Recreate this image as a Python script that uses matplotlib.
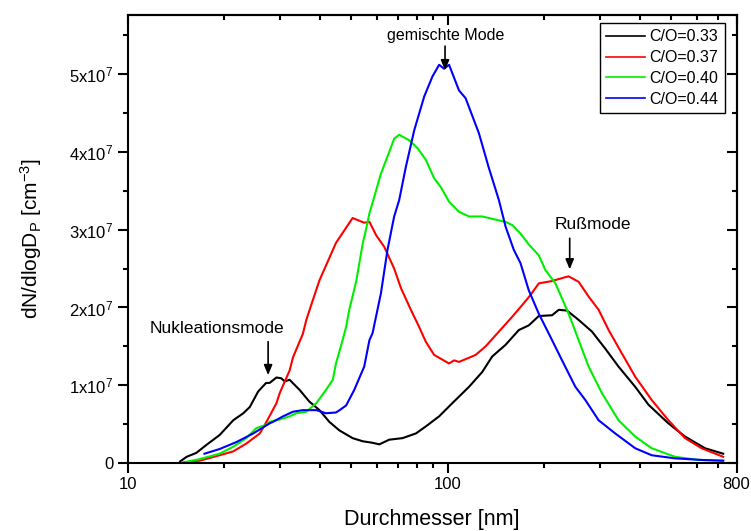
import matplotlib
matplotlib.use("Agg")
import matplotlib.pyplot as plt
from matplotlib.ticker import FixedLocator, NullFormatter, FuncFormatter

plt.rcParams['font.family'] = ['Liberation Sans', 'DejaVu Sans']
plt.rcParams['mathtext.fontset'] = 'custom'
plt.rcParams['mathtext.rm'] = 'Liberation Sans'
plt.rcParams['mathtext.it'] = 'Liberation Sans:italic'

# ---- data (diameter in nm, dN/dlogDp in units of 1e7 cm^-3) ----
x_033 = [14.6, 15.3, 16.4, 17.6, 19.4, 21.4, 23.0, 24.1, 25.6, 27.1, 27.8, 29.2, 30.2, 31.0, 32.1,
         34.5, 37.0, 39.8, 42.7, 45.9, 50.5, 54.3, 58.3, 61.2, 65.7, 72.3, 79.6, 85.5, 94.1, 103.5,
         116.7, 128.3, 137.9, 151.8, 167.0, 179.4, 192.8, 212.1, 222.6, 236.2, 256.8, 282.6, 311.1,
         342.1, 385.8, 424.4, 489.8, 552.3, 637.5, 726.6]
y_033 = [0.02, 0.08, 0.13, 0.23, 0.36, 0.55, 0.64, 0.72, 0.92, 1.03, 1.03, 1.10, 1.09, 1.05, 1.07,
         0.94, 0.79, 0.68, 0.53, 0.42, 0.32, 0.28, 0.26, 0.24, 0.30, 0.32, 0.38, 0.47, 0.60, 0.77,
         0.98, 1.17, 1.37, 1.52, 1.71, 1.77, 1.89, 1.90, 1.97, 1.96, 1.84, 1.69, 1.47,
         1.24, 0.98, 0.75, 0.51, 0.34, 0.19, 0.12]

x_037 = [14.6, 16.8, 19.4, 21.4, 23.5, 25.9, 27.1, 29.2, 29.9, 32.1, 32.9, 35.3, 36.2, 37.9, 39.8,
         44.8, 50.5, 54.9, 57.0, 59.8, 63.4, 68.1, 71.5, 76.8, 81.5, 85.5, 90.8, 101.1, 104.8, 108.6,
         122.4, 131.5, 144.7, 159.2, 171.0, 181.6, 192.8, 212.1, 233.5, 239.0, 256.8, 275.9, 296.5,
         318.6, 350.4, 385.8, 434.5, 489.8, 552.3, 622.1, 726.6]
y_037 = [0.00, 0.03, 0.10, 0.15, 0.25, 0.38, 0.52, 0.77, 0.90, 1.19, 1.36, 1.66, 1.84, 2.09, 2.35,
         2.83, 3.15, 3.09, 3.10, 2.93, 2.78, 2.50, 2.25, 1.97, 1.75, 1.56, 1.39, 1.28, 1.32, 1.30,
         1.39, 1.50, 1.69, 1.88, 2.03, 2.16, 2.31, 2.34, 2.39, 2.40, 2.33, 2.14, 1.97,
         1.71, 1.41, 1.11, 0.81, 0.55, 0.32, 0.19, 0.08]

x_040 = [14.6, 16.8, 19.4, 21.4, 23.5, 25.3, 27.1, 27.8, 29.9, 32.1, 33.7, 36.2, 38.9, 41.7, 43.8,
         44.8, 47.0, 48.2, 49.3, 51.8, 54.3, 55.6, 57.0, 59.0, 61.9, 64.9, 68.1, 70.6, 75.9, 80.5,
         85.5, 90.8, 95.2, 101.1, 108.6, 116.7, 128.3, 144.7, 151.8, 159.2, 169.0, 179.4, 192.8,
         202.3, 217.3, 239.0, 256.8, 275.9, 303.5, 342.1, 385.8, 434.5, 514.0, 607.6, 726.6]
y_040 = [0.00, 0.05, 0.12, 0.21, 0.32, 0.45, 0.49, 0.53, 0.56, 0.60, 0.64, 0.66, 0.77, 0.94, 1.07,
         1.28, 1.58, 1.75, 1.97, 2.33, 2.82, 3.00, 3.21, 3.42, 3.72, 3.94, 4.17, 4.22, 4.15, 4.05,
         3.90, 3.66, 3.55, 3.36, 3.23, 3.17, 3.17, 3.12, 3.10, 3.06, 2.95, 2.81, 2.67,
         2.48, 2.31, 1.92, 1.58, 1.24, 0.90, 0.55, 0.34, 0.19, 0.08, 0.04, 0.03]

x_044 = [17.4, 19.4, 21.9, 24.7, 27.8, 28.5, 30.6, 32.9, 35.3, 38.9, 41.7, 44.8, 46.0, 48.2, 51.1,
         54.9, 57.0, 58.3, 61.9, 64.9, 68.1, 70.6, 74.1, 78.7, 84.5, 89.7, 94.1, 97.5, 101.1, 108.6,
         113.9, 125.3, 134.7, 144.7, 151.8, 161.1, 169.0, 179.4, 192.8, 212.1, 227.9, 250.8, 269.5,
         296.5, 334.2, 385.8, 434.5, 514.0, 622.1, 726.6]
y_044 = [0.12, 0.18, 0.27, 0.38, 0.51, 0.53, 0.60, 0.66, 0.68, 0.68, 0.64, 0.65, 0.68, 0.74, 0.94,
         1.24, 1.58, 1.67, 2.18, 2.74, 3.17, 3.38, 3.81, 4.28, 4.71, 4.97, 5.12, 5.07, 5.12, 4.79,
         4.69, 4.24, 3.79, 3.38, 3.04, 2.74, 2.57, 2.22, 1.92, 1.58, 1.32, 0.98, 0.81,
         0.55, 0.38, 0.19, 0.10, 0.06, 0.04, 0.03]

series = [(x_033, y_033, 'C/O=0.33', '#000000'),
          (x_037, y_037, 'C/O=0.37', '#ff0000'),
          (x_040, y_040, 'C/O=0.40', '#00ee00'),
          (x_044, y_044, 'C/O=0.44', '#0000ff')]

SCALE = 1e7
x_major = [10, 100, 800]
x_minor = [20, 30, 40, 50, 60, 70, 80, 90, 200, 300, 400, 500, 600, 700]
y_major = [0, 1, 2, 3, 4, 5]
y_minor = [0.5, 1.5, 2.5, 3.5, 4.5, 5.5]

fig = plt.figure(figsize=(7.51, 5.31), dpi=100)
ax = fig.add_axes([0.1698, 0.128, 0.811, 0.8437])

for xs, ys, lab, col in series:
    ax.plot(xs, [v * SCALE for v in ys], color=col, lw=1.5, label=lab)

ax.set_xscale('log')
ax.set_xlim(10, 800)
ax.set_ylim(0, 5.76e7)

ax.xaxis.set_major_locator(FixedLocator(x_major))
ax.xaxis.set_minor_locator(FixedLocator(x_minor))
ax.xaxis.set_major_formatter(FuncFormatter(lambda v, p: f'{v:g}'))
ax.xaxis.set_minor_formatter(NullFormatter())

ax.yaxis.set_major_locator(FixedLocator([v * SCALE for v in y_major]))
ax.yaxis.set_minor_locator(FixedLocator([v * SCALE for v in y_minor]))

def yfmt(v, p):
    n = int(round(v / SCALE))
    return '0' if n == 0 else f'{n}x10$^{{7}}$'
ax.yaxis.set_major_formatter(FuncFormatter(yfmt))

for s in ax.spines.values():
    s.set_linewidth(1.5)

ax.tick_params(which='both', direction='out', top=False, right=False, labelsize=12, width=1.5, pad=3)
ax.tick_params(which='major', length=7)
ax.tick_params(which='minor', length=3.5)

# mirrored inward ticks on top and right
axt = ax.secondary_xaxis('top')
axt.xaxis.set_major_locator(FixedLocator(x_major))
axt.xaxis.set_minor_locator(FixedLocator(x_minor))
axt.tick_params(which='both', direction='in', labeltop=False, width=1.5)
axt.tick_params(which='major', length=7)
axt.tick_params(which='minor', length=3.5)
axt.xaxis.set_major_formatter(NullFormatter())
axt.xaxis.set_minor_formatter(NullFormatter())
axr = ax.secondary_yaxis('right')
axr.yaxis.set_major_locator(FixedLocator([v * SCALE for v in y_major]))
axr.yaxis.set_minor_locator(FixedLocator([v * SCALE for v in y_minor]))
axr.tick_params(which='both', direction='in', labelright=False, width=1.5)
axr.tick_params(which='major', length=7)
axr.tick_params(which='minor', length=3.5)
axr.yaxis.set_major_formatter(NullFormatter())
for sa in (axt, axr):
    for s in sa.spines.values():
        s.set_linewidth(1.5)

ax.set_xlabel('Durchmesser [nm]', fontsize=15.5, labelpad=12)
ax.set_ylabel('dN/dlogD$_\\mathrm{P}$ [cm$^{-3}$]', fontsize=15, labelpad=18)

leg = ax.legend(loc='upper right', bbox_to_anchor=(0.981, 0.982), fontsize=11.5,
                frameon=True, fancybox=False, edgecolor='black', framealpha=1,
                handlelength=2.4, handletextpad=0.3, labelspacing=0.36, borderpad=0.4,
                borderaxespad=0)
leg.get_frame().set_linewidth(1.0)
for h in leg.get_lines():
    h.set_linewidth(1.2)

# annotations
arrow = dict(arrowstyle='-|>,head_width=0.25,head_length=0.6', color='black', lw=1.2, shrinkA=0, shrinkB=0)
ax.text(19.0, 1.735e7, 'Nukleationsmode', fontsize=12.5, ha='center', va='center')
ax.annotate('', xy=(27.5, 1.13e7), xytext=(27.5, 1.56e7), arrowprops=arrow)
ax.text(98.5, 5.50e7, 'gemischte Mode', fontsize=11.5, ha='center', va='center')
ax.annotate('', xy=(98.2, 5.05e7), xytext=(98.2, 5.36e7), arrowprops=arrow)
ax.text(284, 3.07e7, 'Rußmode', fontsize=12.5, ha='center', va='center')
ax.annotate('', xy=(240.8, 2.49e7), xytext=(240.8, 2.89e7), arrowprops=arrow)

fig.savefig('out.png', dpi=100)
